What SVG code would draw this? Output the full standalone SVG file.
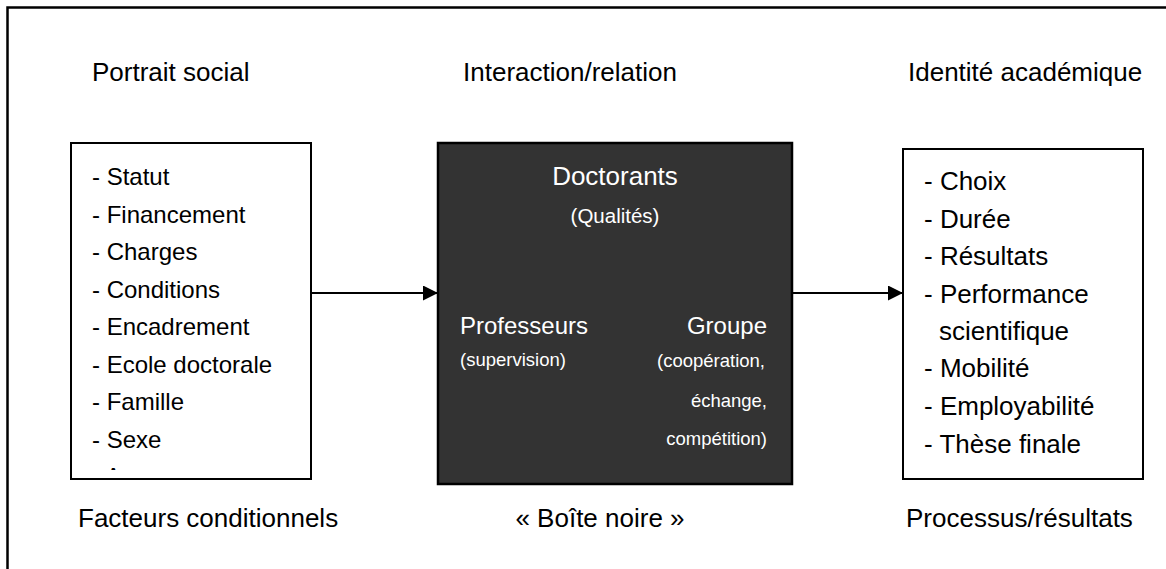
<svg xmlns="http://www.w3.org/2000/svg" width="1166" height="569" viewBox="0 0 1166 569">
  <style>
    text { font-family: "Liberation Sans", Arial, sans-serif; fill: #000; }
    .head { font-size: 26px; }
    .listL { font-size: 24px; }
    .listR { font-size: 26px; }
    .w { fill: #fff; }
    .box { fill: #fff; stroke: #000; stroke-width: 2; }
    .dark { fill: #333; stroke: #000; stroke-width: 2.5; }
    .conn { stroke: #000; stroke-width: 2; fill: none; }
  </style>
  <defs>
    <marker id="arrow" viewBox="0 0 10 10" refX="10" refY="5" markerWidth="7.5" markerHeight="7.5" markerUnits="strokeWidth" orient="auto">
      <path d="M0,0 L10,5 L0,10 Z" fill="#000"/>
    </marker>
    <clipPath id="clipL">
      <rect x="72" y="144" width="238" height="326"/>
    </clipPath>
  </defs>

  <rect width="1166" height="569" fill="#fff"/>
  <!-- outer frame (top and left edges) -->
  <path d="M7.5,569 V7.5 H1166" fill="none" stroke="#000" stroke-width="2.5"/>

  <!-- column headings -->
  <g id="headings">
    <text class="head" x="92" y="81">Portrait social</text>
    <text class="head" x="570" y="81" text-anchor="middle">Interaction/relation</text>
    <text class="head" x="908" y="81">Identité académique</text>
  </g>

  <!-- left node: social factors -->
  <g id="portrait">
    <rect class="box" x="71" y="143" width="240" height="336"/>
    <g class="listL" clip-path="url(#clipL)">
      <text x="92" y="185">- Statut</text>
      <text x="92" y="222.5">- Financement</text>
      <text x="92" y="260">- Charges</text>
      <text x="92" y="297.5">- Conditions</text>
      <text x="92" y="335">- Encadrement</text>
      <text x="92" y="372.5">- Ecole doctorale</text>
      <text x="92" y="410">- Famille</text>
      <text x="92" y="447.5">- Sexe</text>
      <text x="92" y="485">- Age</text>
    </g>
  </g>

  <!-- centre node: black box -->
  <g id="boite-noire">
    <rect class="dark" x="438" y="143" width="354" height="341"/>
    <text class="w" x="615" y="185" text-anchor="middle" font-size="26">Doctorants</text>
    <text class="w" x="615" y="223" text-anchor="middle" font-size="20.5">(Qualités)</text>
    <text class="w" x="460" y="334" font-size="24">Professeurs</text>
    <text class="w" x="460" y="366" font-size="18.5">(supervision)</text>
    <text class="w" x="767" y="334" text-anchor="end" font-size="24">Groupe</text>
    <g font-size="18.5" text-anchor="end">
      <text class="w" x="765" y="367">(coopération,</text>
      <text class="w" x="767" y="407">échange,</text>
      <text class="w" x="767" y="445">compétition)</text>
    </g>
  </g>

  <!-- right node: outcomes -->
  <g id="identite">
    <rect class="box" x="903" y="149" width="240" height="330"/>
    <g class="listR">
      <text x="924" y="190">- Choix</text>
      <text x="924" y="228">- Durée</text>
      <text x="924" y="265">- Résultats</text>
      <text x="924" y="303">- Performance</text>
      <text x="939" y="340">scientifique</text>
      <text x="924" y="377">- Mobilité</text>
      <text x="924" y="415">- Employabilité</text>
      <text x="924" y="453">- Thèse finale</text>
    </g>
  </g>

  <!-- connectors -->
  <g id="connectors">
    <line class="conn" x1="311" y1="293" x2="438" y2="293" marker-end="url(#arrow)"/>
    <line class="conn" x1="792" y1="293" x2="903" y2="293" marker-end="url(#arrow)"/>
  </g>

  <!-- row captions -->
  <g id="captions">
    <text class="head" x="78" y="527">Facteurs conditionnels</text>
    <text class="head" x="600" y="527" text-anchor="middle">« Boîte noire »</text>
    <text class="head" x="906" y="527">Processus/résultats</text>
  </g>
</svg>
